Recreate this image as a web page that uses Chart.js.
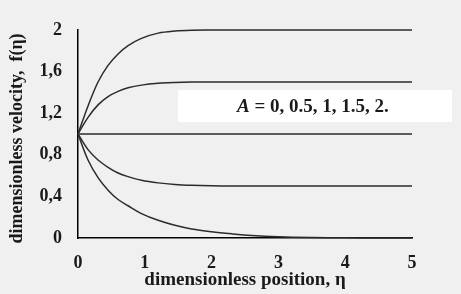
<!DOCTYPE html>
<html>
<head>
<meta charset="utf-8">
<script src="https://cdn.jsdelivr.net/npm/chart.js@4"></script>
<style>
  html, body { margin: 0; padding: 0; background: #f0f0f0; }
  #wrap { width: 461px; height: 294px; }
</style>
</head>
<body>
<div id="wrap"><canvas id="chart" width="461" height="294"></canvas></div>
<script>
// positions along the boundary layer (eta)
const eta = [0, 0.15, 0.3, 0.45, 0.6, 0.75, 0.95, 1.2, 1.45, 1.7, 2, 2.3, 2.6, 3, 3.5, 4, 4.5, 5];

// velocity profiles f(eta), one per value of A
const fA2   = [1, 1.27, 1.5, 1.66, 1.77, 1.85, 1.92, 1.97, 1.99, 1.998, 2, 2, 2, 2, 2, 2, 2, 2];
const fA15  = [1, 1.16, 1.28, 1.36, 1.41, 1.445, 1.47, 1.487, 1.495, 1.499, 1.5, 1.5, 1.5, 1.5, 1.5, 1.5, 1.5, 1.5];
const fA1   = [1, 1, 1, 1, 1, 1, 1, 1, 1, 1, 1, 1, 1, 1, 1, 1, 1, 1];
const fA05  = [1, 0.85, 0.75, 0.68, 0.625, 0.59, 0.555, 0.53, 0.515, 0.507, 0.502, 0.5, 0.5, 0.5, 0.5, 0.5, 0.5, 0.5];
const fA0   = [1, 0.75, 0.58, 0.46, 0.37, 0.31, 0.235, 0.17, 0.122, 0.087, 0.06, 0.04, 0.024, 0.012, 0.005, 0.002, 0, 0];

const yTicks = [0, 0.4, 0.8, 1.2, 1.6, 2];
const legendText = ['A', ' = 0, 0.5, 1, 1.5, 2.'];

const serif = "'Liberation Serif', 'Times New Roman', serif";

function series(values) {
  return {
    data: eta.map((x, i) => ({ x: x, y: values[i] })),
    borderColor: '#2b2b2b',
    borderWidth: 1.5,
    pointRadius: 0,
    fill: false,
    tension: 0.35,
    clip: false
  };
}

// white box with the parameter list
const noteBox = {
  id: 'noteBox',
  afterDatasetsDraw(chart) {
    const ctx = chart.ctx;
    ctx.save();
    ctx.fillStyle = '#ffffff';
    ctx.fillRect(178, 90, 274, 32);
    ctx.fillStyle = '#1a1a1a';
    ctx.textBaseline = 'middle';
    ctx.font = 'italic bold 19px ' + serif;
    let x = 237;
    ctx.fillText(legendText[0], x, 107);
    x += ctx.measureText(legendText[0]).width;
    ctx.font = 'bold 19px ' + serif;
    ctx.fillText(legendText[1], x, 107);
    ctx.restore();
  }
};

new Chart(document.getElementById('chart'), {
  type: 'line',
  data: {
    datasets: [series(fA2), series(fA15), series(fA1), series(fA05), series(fA0)]
  },
  options: {
    responsive: false,
    animation: false,
    layout: { padding: { top: 30, right: 49, bottom: 0, left: 0 } },
    plugins: { legend: { display: false }, tooltip: { enabled: false } },
    scales: {
      x: {
        type: 'linear',
        min: 0,
        max: 5,
        afterFit(scale) { scale.height = 56; },
        grid: { display: false, drawTicks: false },
        border: { display: true, color: '#000', width: 1.5 },
        ticks: {
          stepSize: 1,
          padding: 15,
          color: '#1a1a1a',
          font: { family: serif, size: 18, weight: 'bold' }
        },
        title: {
          display: true,
          text: 'dimensionless position, η',
          color: '#1a1a1a',
          padding: { top: 0, bottom: 3 },
          font: { family: serif, size: 19, weight: 'bold' }
        }
      },
      y: {
        min: 0,
        max: 2,
        afterFit(scale) { scale.width = 78; },
        afterBuildTicks(scale) { scale.ticks = yTicks.map(v => ({ value: v })); },
        grid: { display: false, drawTicks: false },
        border: { display: true, color: '#000', width: 1.5 },
        ticks: {
          padding: 16,
          color: '#1a1a1a',
          font: { family: serif, size: 18, weight: 'bold' },
          callback: v => String(v).replace('.', ',')
        },
        title: {
          display: true,
          text: 'dimensionless velocity,  f(η)  ',
          color: '#1a1a1a',
          padding: { top: 7, bottom: 0 },
          font: { family: serif, size: 18, weight: 'bold' }
        }
      }
    }
  },
  plugins: [noteBox]
});
</script>
</body>
</html>
